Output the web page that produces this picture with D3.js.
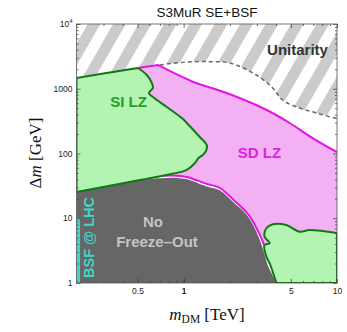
<!DOCTYPE html>
<html><head><meta charset="utf-8">
<script src="https://cdn.jsdelivr.net/npm/d3@7"></script>
<style>body{margin:0;background:#fff;} svg{display:block;}</style>
</head><body>
<svg id="c" width="347" height="332"></svg>
<script>
// ---- data (mDM in TeV, Δm in GeV) ----
const xDomain = [0.2, 10];
const yDomain = [1, 10000];
const xTickLabels = [0.5, 1, 5, 10];
const yTickLabels = [1, 10, 100, 1000, 10000];

const unitarityLine = [[0.70,2330],[1.05,2590],[1.48,2620],[2.0,2500],[2.98,1630],[3.80,1030],[4.42,670],[5.70,504],[7.36,422],[9.64,353],[10,345]];
const siTopLeft = [[0.2,1466],[0.3,1720],[0.503,2090]];
const sdTop = [[0.679,2330],[1.147,1285],[1.91,860],[3.48,470],[4.91,296],[6.93,173],[10,105]];
const sdLower = [[0.55,40.5],[0.70,45],[0.9,45.5],[1.048,43.5],[1.414,34],[1.718,29.5],[2.15,18.5],[2.66,11.2],[3.08,6.1],[3.30,4.2],[3.42,3.2]];
const siLeftEdge = [[0.503,2090],[0.575,1630],[0.62,1227],[0.63,1027],[0.593,860],[0.63,746],[0.776,523],[0.972,353],[1.048,296],[1.274,180],[1.414,135],[1.40,110],[1.332,95],[1.25,85],[1.182,71],[1.048,56],[0.776,46.6],[0.518,39],[0.2,25.4]];
const noFreezeOut = [[0.2,25.4],[0.518,39],[0.70,41.5],[0.9,42],[1.048,40],[1.414,31],[1.718,27],[2.09,18],[2.58,11.2],[2.99,6.1],[3.27,3.5],[3.53,1.9],[4.04,1]];
const siRight = [[4.02,1],[3.64,2.01],[3.46,2.55],[3.37,3.86],[3.64,4.10],[3.37,5.19],[3.46,7.0],[3.82,8.07],[4.67,7.87],[5.70,6.2],[6.62,6.58],[9.64,5.98],[10,5.9]];
const bsfLHC = [[0.2,1],[0.211,10]];

// ---- chart ----
const svg = d3.select("#c");
const L = 76.5, R = 337, T = 24, B = 283;
const x = d3.scaleLog().domain(xDomain).range([L, R]);
const y = d3.scaleLog().domain(yDomain).range([B, T]);
const lin = d3.line().x(d => x(d[0])).y(d => y(d[1]));
const smooth = d3.line().x(d => x(d[0])).y(d => y(d[1])).curve(d3.curveCatmullRom.alpha(0.5));
function path(segs, close) {
  let d = "";
  segs.forEach((s, i) => {
    let p = (s[1] ? smooth : lin)(s[0]);
    if (i > 0) p = "L" + p.slice(1);
    d += p;
  });
  return close ? d + "Z" : d;
}

const defs = svg.append("defs");
const pat = defs.append("pattern").attr("id","hatch").attr("patternUnits","userSpaceOnUse")
  .attr("width",22).attr("height",22).attr("patternTransform","rotate(30)");
pat.append("rect").attr("width",22).attr("height",22).attr("fill","#fff");
pat.append("rect").attr("width",11).attr("height",22).attr("fill","#cbcbcb");
defs.append("clipPath").attr("id","clip").append("rect")
  .attr("x",L).attr("y",T).attr("width",R-L).attr("height",B-T);

const g = svg.append("g").attr("clip-path","url(#clip)");
g.append("rect").attr("x",L).attr("y",T).attr("width",R-L).attr("height",B-T).attr("fill","url(#hatch)");

// allowed (white) region below unitarity
g.append("path").attr("d", path([[siTopLeft,0],[[[0.503,2090],[0.679,2330]],0],[unitarityLine,1],[[[10,1],[0.2,1]],0]], true)).attr("fill","#fff");
g.append("path").attr("d", path([[unitarityLine,1]])).attr("fill","none")
  .attr("stroke","#6a6a6a").attr("stroke-width",1.5).attr("stroke-dasharray","4,3");

// SD LZ
const sdPoly = path([[[[0.503,2090],[0.679,2330]],0],[sdTop,1],[[[10,1],[4.02,1],[3.46,2.55]],0],[sdLower.slice().reverse(),1],[[[0.5,40]],0]], true);
g.append("path").attr("d", sdPoly).attr("fill","#f3b1f3");
g.append("path").attr("d", path([[[[0.503,2090],[0.679,2330]],0],[sdTop,1]])).attr("fill","none").attr("stroke","#e414e4").attr("stroke-width",2);
g.append("path").attr("d", path([[sdLower,1]])).attr("fill","none").attr("stroke","#e414e4").attr("stroke-width",2);

// No freeze-out
g.append("path").attr("d", path([[[[0.2,1]],0],[noFreezeOut,1]], true)).attr("fill","#666666");

// SI LZ
g.append("path").attr("d", path([[siTopLeft,0],[siLeftEdge,1]], true)).attr("fill","#b3f4b3")
  .attr("stroke","#0e7a12").attr("stroke-width",2).attr("stroke-linejoin","round");
g.append("path").attr("d", path([[siRight,1],[[[10,1]],0]], true)).attr("fill","#b3f4b3")
  .attr("stroke","#0e7a12").attr("stroke-width",2).attr("stroke-linejoin","round");

// BSF @ LHC band
g.append("rect").attr("x", x(bsfLHC[0][0])).attr("y", y(bsfLHC[1][1]))
  .attr("width", x(bsfLHC[1][0]) - x(bsfLHC[0][0])).attr("height", y(bsfLHC[0][1]) - y(bsfLHC[1][1]))
  .attr("fill","#3fd6c6");

// region labels
const sans = "'Liberation Sans', Arial, sans-serif";
function lab(t, cx, cy, size, color, rot) {
  const tx = svg.append("text").attr("x",cx).attr("y",cy).attr("text-anchor","middle")
    .attr("font-family",sans).attr("font-weight","bold").attr("font-size",size)
    .attr("fill",color).text(t);
  if (rot) tx.attr("transform",`rotate(${rot},${cx},${cy})`);
  return tx;
}
lab("Unitarity", 297.5, 55, 15, "#333333");
lab("SI LZ", 128.5, 107, 15, "#23a023");
lab("SD LZ", 259.5, 158, 15, "#e020e0");
lab("No", 153, 227, 15, "#c4c4c4");
lab("Freeze\u2013Out", 157, 247, 15, "#c4c4c4");
lab("BSF @ LHC", 93.5, 237.5, 14.5, "#3fd6c6", -90);

// frame + ticks
const tickCol = "#333";
function styleAxis(sel){ sel.selectAll(".domain").remove(); sel.selectAll("line").attr("stroke",tickCol).attr("stroke-width",0.7);
  sel.selectAll("text").attr("font-family",sans).attr("font-size",8.5).attr("fill","#222"); }
const yMinor = y.ticks().filter(v => !yTickLabels.includes(v));
const xMinor = x.ticks().filter(v => !xTickLabels.includes(v) && v !== 1);
svg.append("g").attr("transform",`translate(${L},0)`).call(d3.axisLeft(y).tickValues(yTickLabels).tickSize(-4).tickPadding(4)
  .tickFormat(d => d === 10000 ? "" : String(d))).call(styleAxis)
  .call(s => s.selectAll(".tick").filter(d => d === 10000).select("text")
     .call(t => { t.append("tspan").text("10"); t.append("tspan").attr("dy",-4).attr("font-size",6).text("4"); }));
svg.append("g").attr("transform",`translate(${L},0)`).call(d3.axisLeft(y).tickValues(yMinor).tickSize(-2).tickFormat("")).call(styleAxis);
svg.append("g").attr("transform",`translate(${R},0)`).call(d3.axisRight(y).tickValues(yTickLabels).tickSize(-4).tickFormat("")).call(styleAxis);
svg.append("g").attr("transform",`translate(${R},0)`).call(d3.axisRight(y).tickValues(yMinor).tickSize(-2).tickFormat("")).call(styleAxis);
svg.append("g").attr("transform",`translate(0,${B})`).call(d3.axisBottom(x).tickValues(xTickLabels.concat([1])).tickSize(-4).tickPadding(5)
  .tickFormat(d => String(d))).call(styleAxis);
svg.append("g").attr("transform",`translate(0,${B})`).call(d3.axisBottom(x).tickValues(xMinor).tickSize(-2).tickFormat("")).call(styleAxis);
svg.append("g").attr("transform",`translate(0,${T})`).call(d3.axisTop(x).tickValues(xTickLabels).tickSize(-4).tickFormat("")).call(styleAxis);
svg.append("g").attr("transform",`translate(0,${T})`).call(d3.axisTop(x).tickValues(xMinor).tickSize(-2).tickFormat("")).call(styleAxis);
svg.append("rect").attr("x",L).attr("y",T).attr("width",R-L).attr("height",B-T)
  .attr("fill","none").attr("stroke","#555").attr("stroke-width",0.8);

// title and axis labels
svg.append("text").attr("x",207).attr("y",17).attr("text-anchor","middle")
  .attr("font-family",sans).attr("font-size",13.5).attr("fill","#111").text("S3MuR SE+BSF");
const serif = "'Liberation Serif', 'Times New Roman', serif";
const xl = svg.append("text").attr("x",207).attr("y",320).attr("text-anchor","middle")
  .attr("font-family",serif).attr("font-size",17).attr("fill","#111");
xl.append("tspan").attr("font-style","italic").text("m");
xl.append("tspan").attr("dy",3).attr("font-size",11.5).text("DM");
xl.append("tspan").attr("dy",-3).text(" [TeV]");
const yl = svg.append("text").attr("transform","translate(41,153) rotate(-90)").attr("text-anchor","middle")
  .attr("font-family",serif).attr("font-size",17).attr("fill","#111");
yl.append("tspan").text("\u0394");
yl.append("tspan").attr("font-style","italic").text("m");
yl.append("tspan").text(" [GeV]");
</script>
</body></html>
